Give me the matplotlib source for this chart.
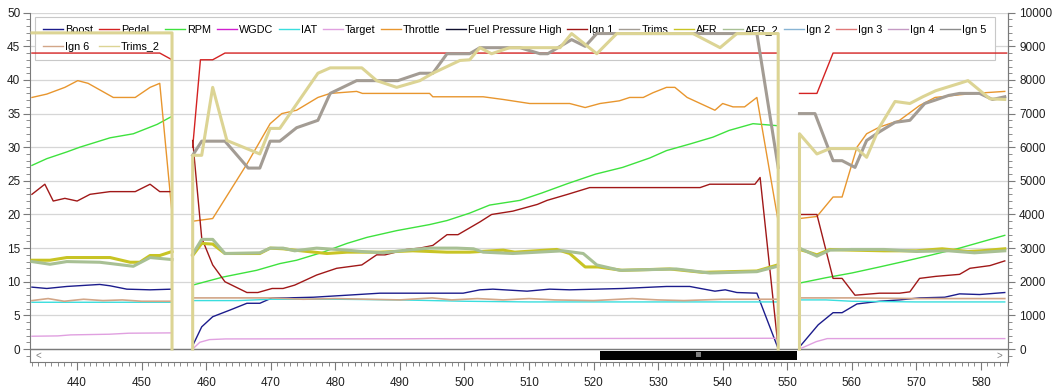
import matplotlib.pyplot as plt
import numpy as np
from matplotlib.patches import Rectangle
from matplotlib.ticker import MultipleLocator

nan = np.nan

# ---- log data (time, value) per channel, nan = gap between logs ----
boost_t = [433, 435.3, 438.4, 443.5, 445.1, 447.7, 451.3, 454.7, nan,
           457.9, 459.3, 461, 463.7, 466.3, 468.3, 470.2, 472.5, 476.6, 481.8, 486.9, 492, 499.8,
           502.4, 504.4, 509.7, 513.2, 516.3, 524.5, 531.3, 534.9, 538.8, 540.4, 542.2, 545.3, 548.5, nan,
           551.9, 554.8, 557.1, 558.5, 560.8, 564.3, 567.4, 570.5, 574.4, 576.7, 579.8, 583.7]
boost_v = [9.2, 9.0, 9.3, 9.6, 9.4, 8.9, 8.8, 8.9, nan,
           0.5, 3.3, 4.8, 5.8, 6.8, 6.8, 7.6, 7.6, 7.7, 8.0, 8.3, 8.3, 8.3,
           8.8, 8.9, 8.6, 8.9, 8.8, 9.0, 9.3, 9.3, 8.6, 8.8, 8.4, 8.3, 0.3, nan,
           0.3, 3.6, 5.4, 5.4, 6.7, 7.1, 7.3, 7.6, 7.7, 8.2, 8.1, 8.4]

pedal_t = [433, 452.8, 454.7, nan, 457.9, 459.1, 461, 462.9, 548.6, nan, 551.9, 554.6, 557.1, 584]
pedal_v = [44, 44, 43, nan, 30, 43, 43, 44, 44, nan, 38, 38, 44, 44]

rpm_t = [433, 435.3, 438.4, 440.4, 445.1, 448.7, 452.4, 454.7, nan,
         457.9, 462.6, 467.8, 471.4, 474, 478.1, 481.8, 484.9, 489.5, 494.6, 497.3, 500.8, 503.9,
         508.6, 512, 516, 520.3, 524.5, 528.7, 531.3, 535, 538.5, 541, 544.7, 548.5, nan,
         551.9, 556, 560, 564.3, 568, 572, 576.7, 580, 583.7]
rpm_v = [27.3, 28.3, 29.3, 30.0, 31.4, 32.0, 33.4, 34.6, nan,
         9.5, 10.7, 11.7, 12.7, 13.2, 14.4, 15.7, 16.6, 17.6, 18.5, 19.1, 20.2, 21.4,
         22.1, 23.2, 24.6, 26.0, 27.0, 28.4, 29.5, 30.5, 31.5, 32.5, 33.5, 33.2, nan,
         9.8, 10.6, 11.3, 12.2, 13.0, 13.9, 15.0, 15.9, 16.9]

wgdc_t = []
wgdc_v = []

iat_t = [433, 454.7, nan, 457.9, 465, 470, 480, 490, 500, 510, 548.6, nan, 551.9, 556, 560, 570, 583.7]
iat_v = [6.95, 6.95, nan, 7.2, 7.2, 7.4, 7.4, 7.3, 7.1, 7.0, 7.0, nan, 7.3, 7.3, 7.1, 7.0, 7.0]

target_t = [433, 437, 439, 445, 448, 454.7, nan, 457.9, 459, 460.5, 463, 548.6, nan, 551.9, 554.5, 556.2, 583.7]
target_v = [1.9, 1.95, 2.1, 2.2, 2.35, 2.4, nan, 0, 1.0, 1.4, 1.5, 1.6, nan, 0, 1.1, 1.55, 1.55]

throttle_t = [433, 435.3, 438.1, 440.1, 441.7, 445.6, 449, 451.3, 452.8, 454.7, nan,
              457.9, 461, 466.3, 469.9, 471.7, 474, 477.3, 479.2, 483.3, 484.2, 494.6, 495.1, 502.9,
              506, 510.1, 516.3, 518.7, 521, 524, 525.6, 527.7, 529.2, 531.3, 532.6, 534.5, 538.8,
              540, 541.6, 543.4, 545.3, 548.6, nan,
              551.9, 554.6, 557.1, 558.5, 560.8, 562.3, 564.3, 567.4, 570.5, 572.9, 576.7, 579, 583.7]
throttle_v = [37.4, 37.9, 38.9, 39.9, 39.5, 37.4, 37.4, 38.9, 39.5, 20.2, nan,
              19.0, 19.4, 27.5, 33.5, 35.0, 35.5, 37.4, 38.0, 38.3, 38.0, 38.0, 37.5, 37.5,
              37.1, 36.5, 36.5, 35.9, 36.5, 36.9, 37.4, 37.4, 38.1, 38.9, 38.9, 37.4, 35.5,
              36.5, 36.0, 36.0, 37.4, 19.0, nan,
              19.4, 19.7, 22.6, 22.6, 30.0, 32.0, 33.0, 34.0, 36.2, 37.4, 37.8, 38.0, 38.3]

fuel_t = []
fuel_v = []

ign1_t = [433, 435, 436.3, 438.1, 440, 442, 445.1, 449, 451.3, 452.8, 454.7, nan,
          457.9, 459.3, 461, 462.9, 466.3, 468, 470.2, 471.9, 473.7, 477.1, 480.2, 484.1, 486.4,
          487.7, 491, 493.1, 495.1, 497.3, 499, 502.4, 504.2, 507.5, 511.3, 512.8, 516, 519.4,
          536.5, 538, 545, 545.8, 548.6, nan,
          551.9, 554.6, 557.1, 558.5, 560.5, 564.3, 567.4, 569, 570.5, 573, 576.7, 578.3, 581.4, 583.7]
ign1_v = [23.0, 24.5, 22.0, 22.4, 22.0, 23.0, 23.4, 23.4, 24.5, 23.4, 23.4, nan,
          31.0, 16.5, 12.5, 10.0, 8.4, 8.4, 9.0, 9.0, 9.5, 11.0, 12.0, 12.5, 14.0,
          14.0, 14.8, 15.0, 15.4, 17.0, 17.0, 18.9, 20.0, 20.5, 21.5, 22.1, 23.0, 24.0,
          24.0, 24.5, 24.5, 25.5, 0.2, nan,
          20.0, 20.0, 10.5, 10.5, 8.0, 8.3, 8.3, 8.5, 10.5, 10.8, 11.1, 12.0, 12.4, 13.1]

trims_t = [457.9, 459.3, 462.9, 466.5, 468.3, 469.9, 471.4, 474, 477.3, 479.2, 483.3, 489.7,
           493.1, 495.1, 497.3, 500.8, 502.4, 508.6, 511.7, 512.9, 516.6, 518.7, 520.5, 545.3, 548.6, nan,
           551.9, 554.3, 557.1, 558.5, 560.5, 562.3, 564.3, 566.7, 569, 571.3, 572.9, 575, 576.7,
           579.8, 581.8, 583.7]
trims_v = [28.8, 30.9, 30.9, 26.9, 26.9, 30.9, 30.9, 32.9, 34.0, 38.0, 39.9, 39.9,
           41.0, 41.0, 43.9, 43.9, 44.8, 44.8, 43.9, 43.9, 46.0, 45.0, 46.9, 46.9, 27.0, nan,
           35.0, 35.0, 28.0, 28.0, 27.0, 31.0, 32.3, 33.7, 34.0, 36.5, 37.0, 37.7, 38.0,
           38.0, 37.1, 37.5]

afr_t = [433, 435.8, 438.4, 445.1, 448.2, 449.7, 451.3, 452.8, 454.7, nan,
         457.9, 459.3, 461, 462.9, 468.3, 469.9, 471.9, 473.7, 478.7, 481.8, 487, 492, 497.3,
         500.8, 506, 507.8, 514.3, 516.3, 518.7, 520.7, 524.4, 531.8, 536.9, 545.3, 548.5, nan,
         551.9, 553, 554.6, 556.6, 560, 565, 570, 574, 578, 580, 583.7]
afr_v = [13.2, 13.2, 13.6, 13.6, 12.9, 12.9, 13.9, 13.9, 14.5, nan,
         13.9, 15.7, 15.6, 14.2, 14.2, 15.0, 14.9, 14.7, 14.2, 14.4, 14.4, 14.6, 14.4,
         14.4, 14.7, 14.4, 14.8, 14.2, 12.2, 12.2, 11.7, 11.9, 11.4, 11.6, 12.5, nan,
         14.8, 14.5, 14.0, 14.8, 14.7, 14.6, 14.6, 14.9, 14.5, 14.6, 14.9]

afr2_t = [433, 435.8, 438.4, 443.5, 448.7, 451.3, 454.7, nan,
          457.9, 459.3, 461, 462.9, 468.3, 469.9, 471.9, 473.7, 477.1, 481.8, 484, 487.4, 491,
          494.6, 498.8, 501.4, 502.9, 507.5, 515.3, 518.4, 520.5, 524.1, 532.8, 538, 545.3, 548.5, nan,
          551.9, 554.6, 556.6, 560, 565, 570, 575, 579, 583.7]
afr2_v = [13.0, 12.6, 13.0, 12.9, 12.3, 13.6, 13.3, nan,
          14.1, 16.3, 16.3, 14.2, 14.3, 15.0, 15.0, 14.6, 15.0, 14.7, 14.5, 14.3, 14.7,
          15.0, 15.0, 14.9, 14.4, 14.2, 14.6, 14.2, 12.5, 11.7, 11.9, 11.3, 11.5, 12.3, nan,
          15.0, 13.8, 14.7, 14.8, 14.8, 14.5, 14.6, 14.3, 14.6]

ign2_t, ign2_v = [], []
ign3_t, ign3_v = [], []
ign4_t, ign4_v = [], []
ign5_t, ign5_v = [], []

ign6_t = [433, 435.5, 438, 441, 444, 447, 450, 454.7, nan,
          457.9, 470, 475, 480, 485, 490, 495, 498, 502, 506, 510, 514, 520, 526, 530, 534, 540, 548.6, nan,
          551.9, 560, 570, 583.7]
ign6_v = [7.2, 7.5, 7.1, 7.4, 7.2, 7.3, 7.1, 7.1, nan,
          7.6, 7.6, 7.4, 7.5, 7.4, 7.3, 7.6, 7.3, 7.5, 7.3, 7.5, 7.3, 7.2, 7.5, 7.3, 7.2, 7.4, 7.4, nan,
          7.6, 7.6, 7.5, 7.5]

trims2_t = [433, 454.7, 454.7, nan,
            457.9, 457.9, 459.3, 461, 463.2, 468.3, 469.9, 471.4, 477.3, 479.2, 484.1, 486.4, 489.5,
            493.1, 495.1, 499.3, 500.8, 502.4, 504.2, 507, 514.8, 516.6, 520.5, 523.6, 535.4, 539.6,
            542.2, 548.6, 548.6, nan,
            551.9, 551.9, 554.6, 556.6, 560.8, 562.3, 564.3, 566.7, 569, 571, 573, 576.7, 578, 581.4, 583.7]
trims2_v = [47, 47, 0, nan,
            0, 28.8, 28.8, 38.9, 31.0, 29.0, 32.8, 32.8, 41.0, 41.8, 41.8, 39.9, 38.9,
            39.9, 41.0, 42.9, 43.0, 44.8, 43.9, 44.8, 44.8, 46.9, 43.9, 46.9, 46.9, 44.8,
            46.9, 46.9, 0, nan,
            0, 32.0, 29.0, 29.8, 29.8, 28.5, 33.0, 36.8, 36.5, 37.5, 38.4, 39.5, 39.9, 37.2, 37.1]

names = ["Boost", "Pedal", "RPM", "WGDC", "IAT", "Target", "Throttle", "Fuel Pressure High",
         "Ign 1", "Trims", "AFR", "AFR_2", "Ign 2", "Ign 3", "Ign 4", "Ign 5", "Ign 6", "Trims_2"]
times = [boost_t, pedal_t, rpm_t, wgdc_t, iat_t, target_t, throttle_t, fuel_t,
         ign1_t, trims_t, afr_t, afr2_t, ign2_t, ign3_t, ign4_t, ign5_t, ign6_t, trims2_t]
values = [boost_v, pedal_v, rpm_v, wgdc_v, iat_v, target_v, throttle_v, fuel_v,
          ign1_v, trims_v, afr_v, afr2_v, ign2_v, ign3_v, ign4_v, ign5_v, ign6_v, trims2_v]
colors = ["#1c1c8c", "#d42222", "#3ee23e", "#d020d0", "#3adede", "#e0a0e0", "#e8962e", "#101030",
          "#a01818", "#a39c94", "#c8c424", "#a8c094", "#88b4d4", "#e07878", "#c49ac4", "#8c8c8c",
          "#d2a688", "#dcd494"]
widths = [1, 1, 1, 1, 1, 1, 1, 1, 1, 2.2, 2.2, 2.2, 1, 1, 1, 1, 1.2, 2.2]

plt.rcParams['font.family'] = ['Liberation Sans', 'DejaVu Sans']

fig = plt.figure(figsize=(10.55, 3.91), dpi=100)
ax = fig.add_axes([30 / 1055, 29 / 391, 978 / 1055, 349.3 / 391])
ax.set_axisbelow(True)

handles = []
for name, t, v, c, w in zip(names, times, values, colors, widths):
    h, = ax.plot(t, v, color=c, lw=w, label=name, zorder=3)
    handles.append(h)

ax.set_xlim(432.7, 584.2)
ax.set_ylim(-1.93, 50)
ax.xaxis.set_major_locator(MultipleLocator(10))
ax.xaxis.set_minor_locator(MultipleLocator(1))
ax.yaxis.set_major_locator(MultipleLocator(5))
ax.yaxis.set_minor_locator(MultipleLocator(1))
ax.set_yticks(np.arange(0, 51, 5))
ax.grid(axis='y', which='major', color='#d6d6d6', lw=0.9)
ax.axhline(0, color='#7a7a7a', lw=1, zorder=2)

for s in ['left', 'right', 'bottom']:
    ax.spines[s].set_color('#7a7a7a')
ax.spines['top'].set_visible(False)
ax.tick_params(axis='both', which='major', labelsize=8.5, colors='#7a7a7a', labelcolor='#202020')
ax.tick_params(axis='x', which='major', length=6, pad=5)
ax.tick_params(axis='x', which='minor', length=3, color='#7a7a7a')
ax.tick_params(axis='y', which='major', length=5, pad=2)
ax.tick_params(axis='y', which='minor', length=3, color='#7a7a7a')

ax2 = ax.twinx()
ax2.set_ylim(-1.93 * 200, 10000)
ax2.yaxis.set_major_locator(MultipleLocator(1000))
ax2.yaxis.set_minor_locator(MultipleLocator(200))
ax2.set_yticks(np.arange(0, 10001, 1000))
ax2.spines['top'].set_visible(False)
ax2.spines['right'].set_color('#7a7a7a')
ax2.spines['left'].set_visible(False)
ax2.spines['bottom'].set_visible(False)
ax2.tick_params(axis='y', which='major', labelsize=8.5, length=5, pad=3, colors='#7a7a7a', labelcolor='#202020')
ax2.tick_params(axis='y', which='minor', length=3, color='#7a7a7a')

# scroll bar under the plot
ax.add_patch(Rectangle((0.583, 0.006), 0.201, 0.026, transform=ax.transAxes,
                       facecolor='black', edgecolor='none', zorder=5, clip_on=False))
ax.text(0.6835, 0.019, "III", transform=ax.transAxes, color='white', fontsize=5,
        ha='center', va='center', zorder=6, fontweight='bold')
ax.text(0.006, 0.019, "<", transform=ax.transAxes, color='#808080', fontsize=7, ha='left', va='center')
ax.text(0.994, 0.019, ">", transform=ax.transAxes, color='#808080', fontsize=7, ha='right', va='center')

# legend: row 1 has 16 entries, row 2 the last two
order = [0, 16, 1, 17] + list(range(2, 16))
leg = ax.legend([handles[i] for i in order], [names[i] for i in order], ncol=16,
                loc='upper left', bbox_to_anchor=(0.005, 0.988), borderaxespad=0,
                fontsize=7.8, handlelength=1.85, handletextpad=0.2, columnspacing=0.5,
                labelspacing=0.6, borderpad=0.75, frameon=True, fancybox=False)
leg.get_frame().set_facecolor('white')
leg.get_frame().set_alpha(1)
leg.get_frame().set_edgecolor('#c8c8c8')
leg.get_frame().set_linewidth(0.8)
for line in leg.get_lines():
    line.set_linewidth(1)
leg.set_zorder(1)

fig.savefig("out.png", dpi=100)
